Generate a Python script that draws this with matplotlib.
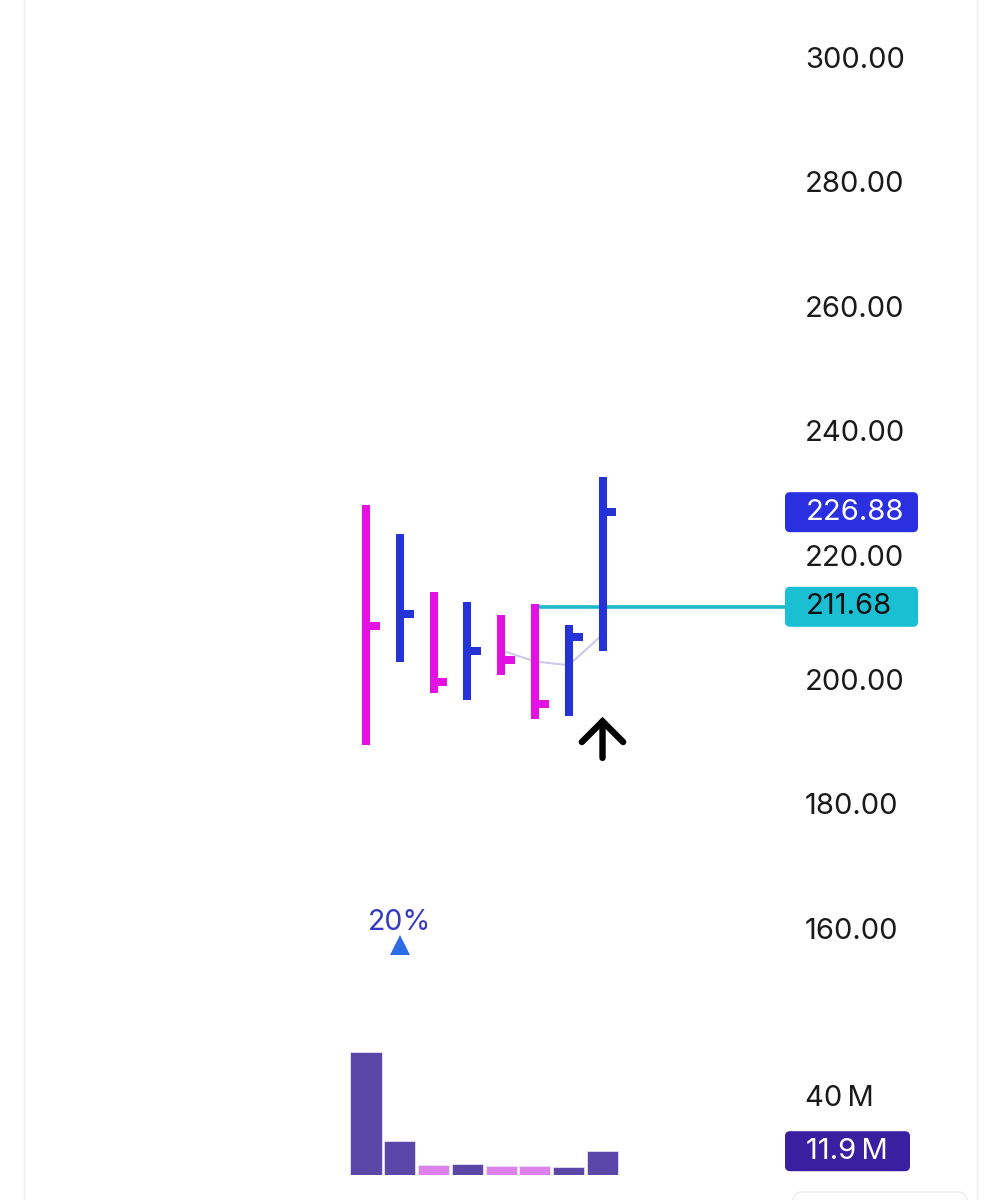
import matplotlib
matplotlib.use("Agg")
from matplotlib import pyplot as plt
from matplotlib import transforms
from matplotlib.patches import FancyBboxPatch

plt.rcParams['font.family'] = ['Inter', 'DejaVu Sans']

# price bars (high / low / close), one per session
highs = [228.0, 223.3, 214.0, 212.5, 210.3, 212.1, 208.8, 232.5]
lows = [189.4, 202.8, 197.8, 196.7, 200.8, 193.7, 194.1, 204.5]
closes = [208.65, 210.5, 199.6, 204.6, 203.2, 196.1, 206.9, 226.88]
bar_colors = ['#e312e3', '#2432d8', '#e312e3', '#2432d8',
              '#e312e3', '#e312e3', '#2432d8', '#2432d8']

# thin average line under the last bars
ma_x = [4, 5, 6, 7]
ma_y = [204.7, 202.9, 202.3, 207.2]

# volume, millions
volumes = [61.7, 16.9, 5.2, 5.5, 4.7, 4.4, 4.0, 11.9]
vol_colors = ['#5b47a8', '#5b47a8', '#dc82ea', '#5b47a8',
              '#dc82ea', '#dc82ea', '#5b47a8', '#5b47a8']

price_ticks = [160, 180, 200, 220, 240, 260, 280, 300]
last_close = 226.88
ref_price = 211.68
ref_start = 5
vol_tick = 40
vol_last = 11.9

W, H = 1002, 1200
fig = plt.figure(figsize=(W / 100, H / 100), dpi=100)
fig.patch.set_facecolor('white')

xl = (-10.09, 12.40)
ax = fig.add_axes([25 / W, 180 / H, 760 / W, 1020 / H])
ax.set_zorder(2)
ax.set_xlim(*xl)
ax.set_ylim(145.30, 309.16)
ax.set_facecolor('none')
for s in ax.spines.values():
    s.set_visible(False)
ax.set_xticks([])
ax.yaxis.tick_right()
ax.set_yticks(price_ticks)
ax.set_yticklabels([f'{v:.2f}' for v in price_ticks])
ax.tick_params(axis='y', length=0, pad=14.4, labelsize=21, labelcolor='#1a1a1a')

xs = list(range(len(highs)))
ax.hlines(ref_price, ref_start, xl[1], color='#1bb8cc', lw=2.6, zorder=1)
ax.plot(ma_x, ma_y, color='#cfc8e6', lw=1.5, zorder=1)
ax.vlines(xs, lows, highs, colors=bar_colors, lw=5.8, zorder=2)
ax.hlines(closes, xs, [x + 0.41 for x in xs], colors=bar_colors, lw=5.8, zorder=2)

ax.annotate('', xy=(7, 194.0), xytext=(7, 187.4),
            arrowprops=dict(arrowstyle='->,head_length=0.62,head_width=0.62',
                            mutation_scale=24, color='black', lw=4.6,
                            shrinkA=0, shrinkB=0, joinstyle='miter'))
ax.plot([1], [157.35], marker='^', ms=15, color='#2e6be6', mew=0)
ax.text(1, 161.0, '20%', ha='center', va='center', fontsize=20.5, color='#3438c2')

# volume panel
vax = fig.add_axes([25 / W, 25 / H, 760 / W, 150 / H])
vax.set_zorder(2)
vax.set_xlim(*xl)
vax.set_ylim(0, 75)
vax.set_facecolor('none')
for s in vax.spines.values():
    s.set_visible(False)
vax.set_xticks([])
vax.yaxis.tick_right()
vax.set_yticks([vol_tick])
vax.set_yticklabels([f'{vol_tick}\u2009M'])
vax.tick_params(axis='y', length=0, pad=14.4, labelsize=21, labelcolor='#1a1a1a')
vax.bar(xs, volumes, width=0.92, color=vol_colors, edgecolor='#e8e2f2', lw=0.6)

# value badges, sized in pixels
def badge(a, y, txt, bg, fg, x1):
    yc = a.transData.transform((0, y))[1]
    fig.add_artist(FancyBboxPatch((785, yc - 20), x1 - 785, 40,
                                  boxstyle='round,pad=0,rounding_size=5',
                                  transform=transforms.IdentityTransform(),
                                  fc=bg, ec='none', zorder=1))
    tr = transforms.blended_transform_factory(fig.transFigure, a.transData)
    a.text(806 / W, y, txt, transform=tr, ha='left', va='center', fontsize=21,
           color=fg, zorder=5, clip_on=False)

badge(ax, last_close, f'{last_close:.2f}', '#2a2fe0', 'white', 918)
badge(ax, ref_price, f'{ref_price:.2f}', '#1bbfd4', '#111111', 918)
badge(vax, vol_last, f'{vol_last}\u2009M', '#3a1fa0', 'white', 910)

# faint frame lines
fig.add_artist(plt.Line2D([24 / W, 24 / W], [0, 1], color='#eeeeee', lw=1, zorder=0))
fig.add_artist(plt.Line2D([977 / W, 977 / W], [0, 1], color='#eeeeee', lw=1, zorder=0))
fig.add_artist(FancyBboxPatch((793 / W, -0.02), 174 / W, 32 / H,
                              boxstyle='round,pad=0,rounding_size=0.008',
                              transform=fig.transFigure, fc='white', ec='#eeeeee',
                              lw=1, zorder=0))

fig.savefig('out.png', dpi=100)
